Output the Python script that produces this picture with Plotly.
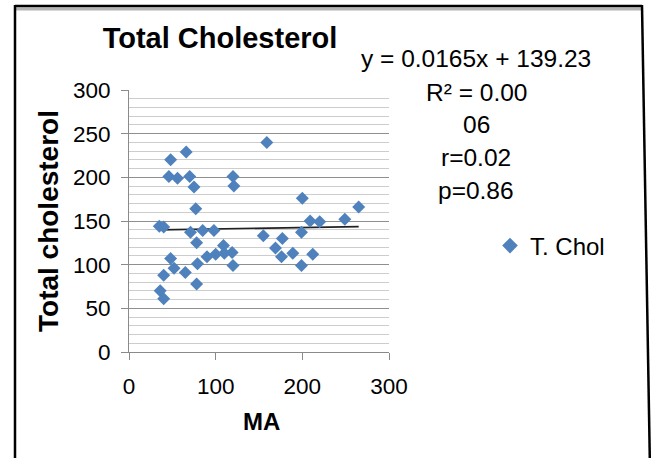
import plotly.graph_objects as go

# ---- data ----
ma = [35, 40, 48, 66, 46, 56, 70, 75, 77, 71, 85, 98, 78, 48, 52, 40, 36, 40,
      65, 79, 78, 90, 100, 109, 110, 119, 120, 120, 121,
      159, 155, 200, 265, 249, 209, 220, 199, 169, 177, 176, 189, 212, 199]
tchol = [144, 143, 220, 229, 201, 199, 201, 189, 164, 137, 139, 139, 125, 107, 96, 88, 70, 61,
         91, 101, 78, 109, 112, 122, 113, 114, 99, 201, 190,
         240, 133, 176, 166, 152, 150, 149, 137, 119, 130, 109, 113, 112, 99]
slope = 0.0165
intercept = 139.23
series_name = "T. Chol"
chart_title = "Total Cholesterol"
x_title = "MA"
y_title = "Total cholesterol"
stat_lines = ["y = 0.0165x + 139.23", "R² = 0.00", "06", "r=0.02", "p=0.86"]
x_ticks = [0, 100, 200, 300]
y_ticks = [0, 50, 100, 150, 200, 250, 300]

# ---- layout geometry (pixels) ----
W, H = 652, 458
L, R_, T, B = 129, 389, 90, 352
pw, ph = R_ - L, B - T

def px(x):
    return (x - L) / pw

def py(y):
    return (B - y) / ph

FONT = "Liberation Sans, Arial, sans-serif"
BLUE = "#4F81BD"

fig = go.Figure()

xs = [min(ma), max(ma)]
fig.add_trace(go.Scatter(
    x=xs, y=[slope * v + intercept for v in xs], mode="lines",
    line=dict(color="#222222", width=1.6), showlegend=False, hoverinfo="skip"))

fig.add_trace(go.Scatter(
    x=ma, y=tchol, mode="markers", name=series_name,
    marker=dict(symbol="diamond", size=10, color=BLUE, line=dict(width=0))))

annotations = []
for i, t in enumerate(stat_lines):
    yy = [58, 92, 125, 157, 190][i]
    annotations.append(dict(text=t, xref="paper", yref="paper", x=px(476), y=py(yy),
                            xanchor="center", yanchor="middle", showarrow=False,
                            font=dict(family=FONT, size=24.5, color="black")))
annotations.append(dict(text="<b>%s</b>" % y_title, xref="paper", yref="paper",
                        x=px(48), y=py(221), textangle=-90, xanchor="center", yanchor="middle",
                        showarrow=False, font=dict(family=FONT, size=28, color="black")))
annotations.append(dict(text="<b>%s</b>" % x_title, xref="paper", yref="paper",
                        x=px(261), y=py(421), xanchor="center", yanchor="middle",
                        showarrow=False, font=dict(family=FONT, size=24, color="black")))

# outer frame
def seg(x0, y0, x1, y1, color, width):
    return dict(type="line", xref="paper", yref="paper", x0=px(x0), y0=py(y0), x1=px(x1), y1=py(y1),
                line=dict(color=color, width=width), layer="above")

shapes = [
    seg(16, 9, 641, 9, "#b4b4b4", 3),
    seg(15, 6, 642, 6, "black", 2.5),
    seg(15, 5, 15, 470, "black", 2.5),
    seg(642, 5, 650, 470, "black", 2.5),
]

fig.update_layout(
    width=W, height=H,
    margin=dict(l=L, r=W - R_, t=T, b=H - B),
    paper_bgcolor="white", plot_bgcolor="white",
    title=dict(text="<b>%s</b>" % chart_title, x=220 / W, xanchor="center", xref="container",
               y=1 - 38 / H, yanchor="middle", yref="container",
               font=dict(family=FONT, size=29, color="black")),
    xaxis=dict(range=[0, 300], tickvals=x_ticks, showgrid=False, zeroline=False,
               showline=True, linecolor="#8a8a8a", linewidth=1,
               ticks="outside", ticklen=7, tickcolor="#8a8a8a",
               tickfont=dict(family=FONT, size=22.5, color="black"), ticklabelstandoff=7),
    yaxis=dict(range=[0, 300], tickvals=y_ticks, showgrid=True, gridcolor="#8f8f8f", gridwidth=1,
               zeroline=False, showline=True, linecolor="#8a8a8a", linewidth=1,
               ticks="outside", ticklen=7, tickcolor="#8a8a8a",
               minor=dict(dtick=10, showgrid=True, gridcolor="#cdcdcd", gridwidth=1, ticks=""),
               tickfont=dict(family=FONT, size=22.5, color="black"), ticklabelstandoff=6),
    legend=dict(x=px(490), y=py(246), xanchor="left", yanchor="middle",
                font=dict(family=FONT, size=24, color="black"), bgcolor="rgba(0,0,0,0)",
                itemsizing="constant"),
    annotations=annotations,
    shapes=shapes,
)

fig.write_html("out.html", config={"displayModeBar": False},
               post_script="document.body.style.margin='0';")
